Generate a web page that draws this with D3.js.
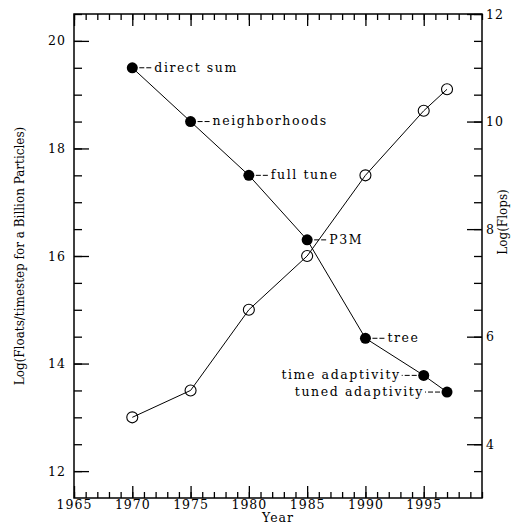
<!DOCTYPE html>
<html>
<head>
<meta charset="utf-8">
<script src="https://cdn.jsdelivr.net/npm/d3@7"></script>
<style>
  body { margin: 0; background: #fff; }
  text { font-family: "DejaVu Serif", serif; fill: #000; }
</style>
</head>
<body>
<div class="chart"></div>
<script>
// values
var years = [1970, 1975, 1980, 1985, 1990, 1995, 1997];
var floats = [19.5, 18.5, 17.5, 16.3, 14.47, 13.78, 13.47];
var flops = [4.5, 5.0, 6.5, 7.5, 9.0, 10.2, 10.6];
var methods = ["direct sum", "neighborhoods", "full tune", "P3M", "tree", "time adaptivity", "tuned adaptivity"];
var labelSide = ["right", "right", "right", "right", "right", "left", "left"];

var xTicks = [1965, 1970, 1975, 1980, 1985, 1990, 1995];
var leftTicks = [12, 14, 16, 18, 20];
var rightTicks = [4, 6, 8, 10, 12];

const margin = {top: 14, right: 30, bottom: 27, left: 74};
const width = 512 - margin.left - margin.right,
    height = 525 - margin.top - margin.bottom;

const xScale = d3.scaleLinear().domain([1965, 2000]).range([0, width]);
const yLeft = d3.scaleLinear().domain([11.5, 20.5]).range([height, 0]);
const yRight = d3.scaleLinear().domain([3, 12]).range([height, 0]);

var svg = d3.select(".chart")
    .append("svg")
    .attr("width", 512)
    .attr("height", 525)
    .append("g")
    .attr("transform", "translate(" + margin.left + "," + margin.top + ")");

function clean(g) {
    g.select(".domain").remove();
    g.selectAll(".tick line").attr("stroke", "#000").attr("stroke-width", 1.3);
    g.selectAll(".tick text").attr("font-size", 12.5).attr("letter-spacing", 1).attr("fill", "#000");
}

// minor ticks
svg.append("g").attr("transform", `translate(0,${height})`)
    .call(d3.axisBottom(xScale).tickValues(d3.range(1965, 2001)).tickSize(-6).tickFormat(""))
    .call(clean);
svg.append("g")
    .call(d3.axisTop(xScale).tickValues(d3.range(1965, 2001)).tickSize(-6).tickFormat(""))
    .call(clean);
svg.append("g")
    .call(d3.axisLeft(yLeft).tickValues(d3.range(12, 20.6, 0.5)).tickSize(-8).tickFormat(""))
    .call(clean);
svg.append("g").attr("transform", `translate(${width},0)`)
    .call(d3.axisRight(yRight).tickValues(d3.range(3.5, 12.1, 0.5)).tickSize(-8).tickFormat(""))
    .call(clean);

// major ticks with labels
svg.append("g").attr("transform", `translate(0,${height})`)
    .call(d3.axisBottom(xScale).tickValues(xTicks).tickSize(-12).tickPadding(2).tickFormat(d3.format("d")))
    .call(clean);
svg.append("g")
    .call(d3.axisTop(xScale).tickValues(xTicks).tickSize(-12).tickFormat(""))
    .call(clean);
svg.append("g")
    .call(d3.axisLeft(yLeft).tickValues(leftTicks).tickSize(-15).tickPadding(8))
    .call(clean);
svg.append("g").attr("transform", `translate(${width},0)`)
    .call(d3.axisRight(yRight).tickValues(rightTicks).tickSize(-15).tickPadding(4))
    .call(clean);

svg.append("rect")
    .attr("width", width)
    .attr("height", height)
    .attr("fill", "none")
    .attr("stroke", "#000")
    .attr("stroke-width", 1.5);

// flops series (open circles)
svg.append("path")
    .datum(years)
    .attr("fill", "none")
    .attr("stroke", "#000")
    .attr("stroke-width", 1)
    .attr("d", d3.line().x(d => xScale(d)).y((d, i) => yRight(flops[i])));

svg.selectAll("circle.open")
    .data(years)
    .enter()
    .append("circle")
    .attr("class", "open")
    .attr("cx", d => xScale(d))
    .attr("cy", (d, i) => yRight(flops[i]))
    .attr("r", 5.5)
    .attr("fill", "none")
    .attr("stroke", "#000")
    .attr("stroke-width", 1.1);

// floats series (filled circles)
svg.append("path")
    .datum(years)
    .attr("fill", "none")
    .attr("stroke", "#000")
    .attr("stroke-width", 1)
    .attr("d", d3.line().x(d => xScale(d)).y((d, i) => yLeft(floats[i])));

var leaders = svg.selectAll("line.leader")
    .data(years)
    .enter()
    .append("line")
    .attr("class", "leader")
    .attr("x1", d => xScale(d))
    .attr("x2", (d, i) => xScale(d) + (labelSide[i] == "right" ? 20 : -22))
    .attr("y1", (d, i) => yLeft(floats[i]))
    .attr("y2", (d, i) => yLeft(floats[i]))
    .attr("stroke", "#000")
    .attr("stroke-width", 1)
    .attr("stroke-dasharray", "5,2");

svg.selectAll("circle.filled")
    .data(years)
    .enter()
    .append("circle")
    .attr("class", "filled")
    .attr("cx", d => xScale(d))
    .attr("cy", (d, i) => yLeft(floats[i]))
    .attr("r", 5.5)
    .attr("fill", "#000");

svg.selectAll("text.method")
    .data(methods)
    .enter()
    .append("text")
    .attr("class", "method")
    .text(d => d)
    .attr("x", (d, i) => xScale(years[i]) + (labelSide[i] == "right" ? 22 : -23))
    .attr("y", (d, i) => yLeft(floats[i]))
    .attr("dy", "0.3em")
    .attr("text-anchor", (d, i) => labelSide[i] == "right" ? "start" : "end")
    .attr("font-size", 12.5)
    .attr("letter-spacing", 1.6);

// axis titles
svg.append("text")
    .text("Year")
    .attr("x", width / 2)
    .attr("y", height + 24)
    .attr("text-anchor", "middle")
    .attr("font-size", 12.5)
    .attr("letter-spacing", 1);

svg.append("text")
    .text("Log(Floats/timestep for a Billion Particles)")
    .attr("transform", `translate(${24 - margin.left},${height / 2}) rotate(-90)`)
    .attr("text-anchor", "middle")
    .attr("font-size", 12);

svg.append("text")
    .text("Log(Flops)")
    .attr("transform", `translate(${507 - margin.left},${222 - margin.top}) rotate(-90)`)
    .attr("text-anchor", "middle")
    .attr("font-size", 12);
</script>
</body>
</html>
